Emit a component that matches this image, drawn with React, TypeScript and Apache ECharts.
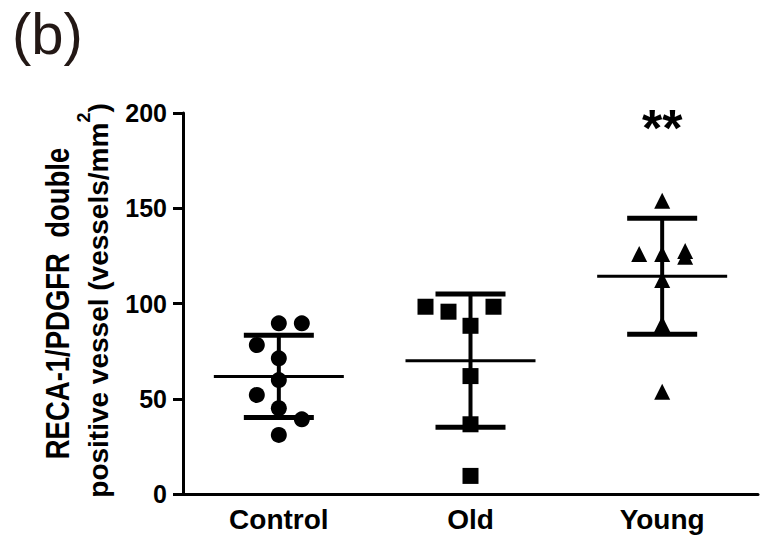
import React, { useEffect, useRef } from "react";
import * as echarts from "echarts";

const categories = ["Control", "Old", "Young"];
const yTickMin = 0;
const yTickMax = 200;
const yTickStep = 50;

// individual values per group
const controlValues = [89.6, 89.6, 78.2, 71.2, 59.8, 52.0, 45.0, 39.2, 31.0];
const oldValues = [98.3, 95.7, 98.3, 88.3, 61.9, 36.6, 9.5];
const youngValues = [154.0, 126.0, 126.0, 127.5, 124.5, 112.3, 89.2, 53.7];

// group mean and SD
const groupMeans = [61.7, 70.0, 114.3];
const groupSDs = [21.6, 35.0, 30.4];

// significance annotation
const annotationCategory = "Young";
const annotationValue = 192;
const annotationText = "**";

// axis title pieces
const yTitleLine1 = "RECA-1/PDGFR  double";
const yTitleLine2Main = "positive vessel (vessels/mm";
const yTitleLine2Sup = "2";
const yTitleLine2End = ")";
const panelLabel = "(b)";

// horizontal jitter of the points (px, styling only)
const controlJitter = [0, 23, -22, 0, 0, -22, 0, 23, 0];
const oldJitter = [-45, -22, 23, 0, 0, 0, 0];
const youngJitter = [0, -23, 0, 23, 23, 0, 0, 0];

const FONT = "'Liberation Sans', Arial, Helvetica, sans-serif";

export default function App() {
  const ref = useRef<HTMLDivElement>(null);
  useEffect(() => {
    document.body.style.margin = "0";
    const chart = echarts.init(ref.current as HTMLDivElement, null, { renderer: "svg" });
    const mk = (vals: number[], jit: number[], idx: number) =>
      vals.map((v, i) => ({ value: [idx, v], symbolOffset: [jit[i], 0] }));
    const pointStyle = { color: "#000", opacity: 1 };

    // measure the pieces of the second title line
    const fontMain = `bold 28px ${FONT}`;
    const fontSup = `bold 18px ${FONT}`;
    const ctx = document.createElement("canvas").getContext("2d") as CanvasRenderingContext2D;
    ctx.font = fontMain;
    const wA = ctx.measureText(yTitleLine2Main).width;
    const wB = ctx.measureText(yTitleLine2End).width;
    ctx.font = fontSup;
    const wS = ctx.measureText(yTitleLine2Sup).width;
    const L = wA + wS + wB;
    const yc2 = 300.5;
    const x2 = 99;
    const yStart = yc2 + L / 2;

    const rotText = (text: string, x: number, y: number, font: string, scaleY: number, align: string) => ({
      type: "text",
      x,
      y,
      rotation: Math.PI / 2,
      scaleY,
      style: {
        text,
        font,
        fill: "#000",
        textAlign: align,
        textVerticalAlign: "middle",
        align,
        verticalAlign: "middle",
      },
    });

    chart.setOption({
      animation: false,
      grid: { left: 183, top: 113, width: 575, height: 381 },
      xAxis: {
        type: "category",
        data: categories,
        boundaryGap: true,
        axisLine: { lineStyle: { color: "#000", width: 3 } },
        axisTick: { alignWithLabel: true, length: 10, lineStyle: { color: "#000", width: 3 } },
        axisLabel: { color: "#000", fontFamily: FONT, fontWeight: "bold", fontSize: 28, margin: 11 },
        splitLine: { show: false },
      },
      yAxis: {
        type: "value",
        min: yTickMin,
        max: yTickMax,
        interval: yTickStep,
        axisLine: { show: true, lineStyle: { color: "#000", width: 3 } },
        axisTick: { show: true, length: 10, lineStyle: { color: "#000", width: 3 } },
        axisLabel: { color: "#000", fontFamily: FONT, fontWeight: "bold", fontSize: 25, margin: 16 },
        splitLine: { show: false },
      },
      series: [
        {
          type: "custom",
          encode: { x: 0, y: 1 },
          data: categories.map((_, i) => [i, groupMeans[i], groupSDs[i]]),
          renderItem: (params: any, api: any) => {
            const x = api.value(0);
            const m = api.value(1);
            const s = api.value(2);
            const c = api.coord([x, m]);
            const t = api.coord([x, m + s]);
            const b = api.coord([x, m - s]);
            const st = (w: number) => ({ stroke: "#000", lineWidth: w, fill: "none" });
            return {
              type: "group",
              children: [
                { type: "line", shape: { x1: c[0] - 65, y1: c[1], x2: c[0] + 65, y2: c[1] }, style: st(3) },
                { type: "line", shape: { x1: c[0], y1: t[1], x2: c[0], y2: b[1] }, style: st(4) },
                { type: "line", shape: { x1: c[0] - 35, y1: t[1], x2: c[0] + 35, y2: t[1] }, style: st(5) },
                { type: "line", shape: { x1: c[0] - 35, y1: b[1], x2: c[0] + 35, y2: b[1] }, style: st(5) },
              ],
            };
          },
        },
        { type: "scatter", symbol: "circle", symbolSize: 16, itemStyle: pointStyle, data: mk(controlValues, controlJitter, 0) },
        { type: "scatter", symbol: "rect", symbolSize: 16, itemStyle: pointStyle, data: mk(oldValues, oldJitter, 1) },
        { type: "scatter", symbol: "triangle", symbolSize: 16, itemStyle: pointStyle, data: mk(youngValues, youngJitter, 2) },
        {
          type: "scatter",
          symbolSize: 0,
          itemStyle: { opacity: 1 },
          data: [[categories.indexOf(annotationCategory), annotationValue]],
          label: {
            show: true,
            position: "inside",
            formatter: annotationText,
            color: "#000",
            fontFamily: FONT,
            fontWeight: "bold",
            fontSize: 52,
          },
        },
      ],
      graphic: [
        {
          type: "text",
          x: 12,
          y: 4,
          style: {
            text: panelLabel,
            font: `normal 58px ${FONT}`,
            fill: "#231815",
            textAlign: "left",
            textVerticalAlign: "top",
            align: "left",
            verticalAlign: "top",
          },
        },
        rotText(yTitleLine1, 58, 303.5, `bold 27.5px ${FONT}`, 1.2, "center"),
        rotText(yTitleLine2Main, x2, yStart, fontMain, 0.98, "left"),
        rotText(yTitleLine2Sup, 84, yStart - wA, fontSup, 0.98, "left"),
        rotText(yTitleLine2End, x2, yStart - wA - wS, fontMain, 0.98, "left"),
      ],
    });
    return () => chart.dispose();
  }, []);
  return <div ref={ref} style={{ width: 770, height: 542 }} />;
}
